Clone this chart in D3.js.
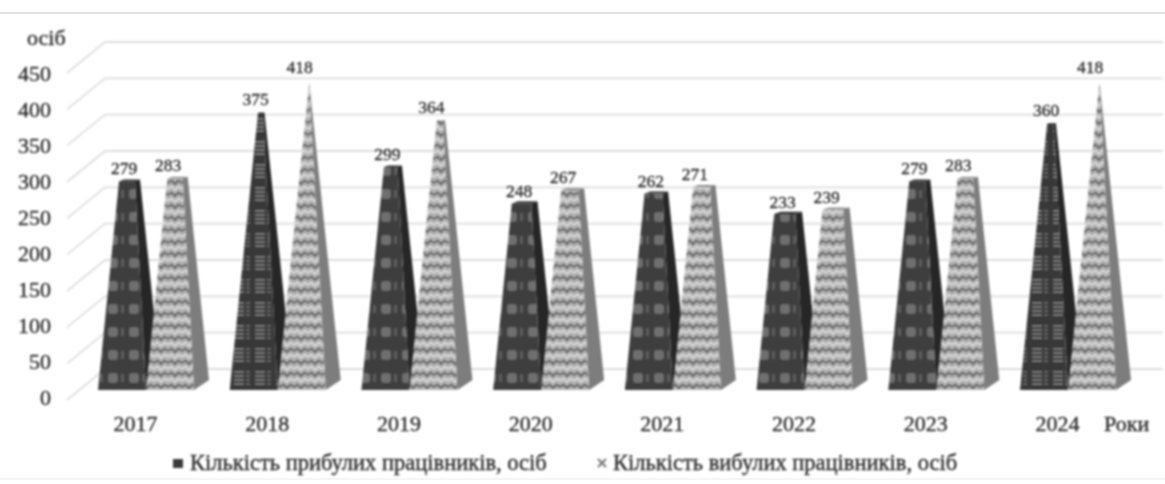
<!DOCTYPE html>
<html>
<head>
<meta charset="utf-8">
<script src="https://cdn.jsdelivr.net/npm/d3@7"></script>
<style>
  html, body { margin: 0; padding: 0; background: #fff; }
  svg { display: block; }
  text { font-family: "Liberation Serif", serif; fill: #2b2b2b; stroke: #2b2b2b; stroke-width: 0.35; }
</style>
</head>
<body>
<div id="chart"></div>
<script>
'use strict';

const years = ['2017', '2018', '2019', '2020', '2021', '2022', '2023', '2024'];
const arrived = [279, 375, 299, 248, 262, 233, 279, 360];
const left = [283, 418, 364, 267, 271, 239, 283, 418];
const yTicks = [0, 50, 100, 150, 200, 250, 300, 350, 400, 450];
const legendLabels = ['Кількість прибулих працівників, осіб', 'Кількість вибулих працівників, осіб'];

const width = 1165, height = 484;
const peak = d3.max(left);

const svg = d3.select('#chart').append('svg')
    .attr('width', width)
    .attr('height', height);

const defs = svg.append('defs');

function blur(id, amount) {
  defs.append('filter').attr('id', id)
      .attr('filterUnits', 'userSpaceOnUse')
      .attr('x', -200).attr('y', -200).attr('width', width + 400).attr('height', height + 400)
      .attr('color-interpolation-filters', 'sRGB')
    .append('feGaussianBlur').attr('stdDeviation', amount);
}
blur('soft', 0.8);
blur('softer', 1);

// dark fill: grey blobs on near black
const dark = defs.append('pattern').attr('id', 'darkFront')
    .attr('patternUnits', 'userSpaceOnUse').attr('width', 21).attr('height', 23);
dark.append('rect').attr('width', 21).attr('height', 23).attr('fill', '#3e3e3e');
dark.append('rect').attr('x', 3).attr('y', 5).attr('width', 10).attr('height', 10).attr('rx', 3).attr('fill', '#6f6f6f');
dark.append('rect').attr('x', 16).attr('y', 6).attr('width', 3).attr('height', 8).attr('fill', '#5e5e5e');

// stripy version, the tall dark bars came out like this
const st = defs.append('pattern').attr('id', 'darkStripe')
    .attr('patternUnits', 'userSpaceOnUse').attr('width', 21).attr('height', 23);
st.append('rect').attr('width', 21).attr('height', 23).attr('fill', '#383838');
[3, 7, 11, 15].forEach(y => {
  st.append('rect').attr('x', 3).attr('y', y).attr('width', 10).attr('height', 2).attr('fill', '#808080');
  st.append('rect').attr('x', 15).attr('y', y).attr('width', 4).attr('height', 2).attr('fill', '#6a6a6a');
});

// light fill: zigzag
const light = defs.append('pattern').attr('id', 'lightFront')
    .attr('patternUnits', 'userSpaceOnUse').attr('width', 14).attr('height', 12);
light.append('rect').attr('width', 14).attr('height', 12).attr('fill', '#b0b0b0');
light.append('path').attr('d', 'M0 3L3.5 0.5L7 4L10.5 0.5L14 3').attr('fill', 'none').attr('stroke', '#4a4a4a').attr('stroke-width', 1.3);
light.append('path').attr('d', 'M0 9L3.5 6.5L7 10L10.5 6.5L14 9').attr('fill', 'none').attr('stroke', '#e6e6e6').attr('stroke-width', 1.5);

const x = d3.scalePoint().domain(years).range([146, 1068]);
const yWall = d3.scaleLinear().domain([0, 450]).range([369, 42]);
const yLabel = d3.scaleLinear().domain([0, 450]).range([397, 73]);
const yBar = d3.scaleLinear().domain([0, 450]).range([375, 60]);

// page edge lines
svg.append('g').selectAll('line')
    .data([13, 479])
  .enter().append('line')
    .attr('x1', 0).attr('x2', width)
    .attr('y1', d => d).attr('y2', d => d)
    .attr('stroke', d => d === 13 ? '#d8d8d8' : '#f3f3f3')
    .attr('stroke-width', 1.5);

// back wall grid with the floor diagonals
svg.append('g').attr('filter', 'url(#soft)').selectAll('path')
    .data(yTicks)
  .enter().append('path')
    .attr('fill', 'none')
    .attr('stroke', '#dedede')
    .attr('stroke-width', 1.8)
    .attr('d', d => `M67 ${yWall(d) + 31}L105 ${yWall(d)}L1163 ${yWall(d)}`);

const bw = 24, depthX = 15, depthY = 10;

// one truncated pyramid, front face and right face
function faces(cx, value) {
  const t = value / peak;
  const topY = yBar(value);
  const apexX = cx + depthX / 2;
  const lerp = (a, b) => a + (b - a) * t;
  const fl = [lerp(cx - bw, apexX), topY + 5 * (1 - t)];
  const fr = [lerp(cx + bw, apexX), topY + 5 * (1 - t)];
  const br = [lerp(cx + bw + depthX, apexX), topY - 0.5 * (1 - t)];
  const bl = [lerp(cx - bw + depthX, apexX), topY - 0.5 * (1 - t)];
  const base = 390;
  return {
    front: [[cx - bw, base], [cx + bw, base], fr, fl],
    side: [[cx + bw, base], [cx + bw + depthX, base - depthY], br, fr],
    top: [fl, fr, br, bl]
  };
}

const poly = d3.line().curve(d3.curveLinearClosed);

const bars = svg.append('g').attr('filter', 'url(#softer)');

function drawSeries(values, shift, frontFill, side, top) {
  const g = bars.append('g');
  values.forEach((v, i) => {
    const f = faces(x(years[i]) + shift, v);
    g.append('path').attr('d', poly(f.side)).attr('fill', side);
    g.append('path').attr('d', poly(f.front)).attr('fill', frontFill(v));
    g.append('path').attr('d', poly(f.top)).attr('fill', top);
  });
}

drawSeries(arrived, -bw, v => v > 350 ? 'url(#darkStripe)' : 'url(#darkFront)', '#262626', '#333');
drawSeries(left, bw, () => 'url(#lightFront)', '#7d7d7d', '#929292');

// value labels
const labels = svg.append('g').attr('filter', 'url(#soft)')
    .attr('font-size', 17.5).attr('text-anchor', 'middle');

function drawLabels(values, dx) {
  labels.append('g').selectAll('text')
      .data(values)
    .enter().append('text')
      .attr('x', (d, i) => x(years[i]) + dx)
      .attr('y', d => yWall(d) + 2)
      .attr('dy', '0.35em')
      .text(d => d);
}
drawLabels(arrived, -22);
drawLabels(left, 22);

// axes only carry the text here
const yAxis = d3.axisLeft(yLabel).tickValues(yTicks).tickSize(0).tickPadding(0);
const xAxis = d3.axisBottom(x).tickSize(0).tickPadding(0);

const axisY = svg.append('g').attr('transform', 'translate(51,0)').attr('filter', 'url(#soft)').call(yAxis);
const axisX = svg.append('g').attr('transform', 'translate(-11,415)').attr('filter', 'url(#soft)').call(xAxis);
axisY.select('.domain').remove();
axisX.select('.domain').remove();
axisY.selectAll('text').attr('font-size', 22).attr('font-family', '"Liberation Serif", serif');
axisX.selectAll('text').attr('font-size', 22).attr('font-family', '"Liberation Serif", serif');

const axisTitles = svg.append('g').attr('filter', 'url(#soft)').attr('font-size', 22);
axisTitles.append('text').attr('x', 27).attr('y', 45).text('осіб');
axisTitles.append('text').attr('x', 1104).attr('y', 431).text('Роки');

// legend
const legend = svg.append('g').attr('filter', 'url(#soft)').attr('font-size', 22.5);
legend.append('rect').attr('x', 173).attr('y', 459).attr('width', 10).attr('height', 9).attr('fill', '#3a3a3a');
legend.append('path').attr('d', 'M598 459L606 467M606 459L598 467').attr('stroke', '#777').attr('stroke-width', 2);
legend.append('text').attr('x', 190).attr('y', 470).text(legendLabels[0]);
legend.append('text').attr('x', 613).attr('y', 470).text(legendLabels[1]);
</script>
</body>
</html>
